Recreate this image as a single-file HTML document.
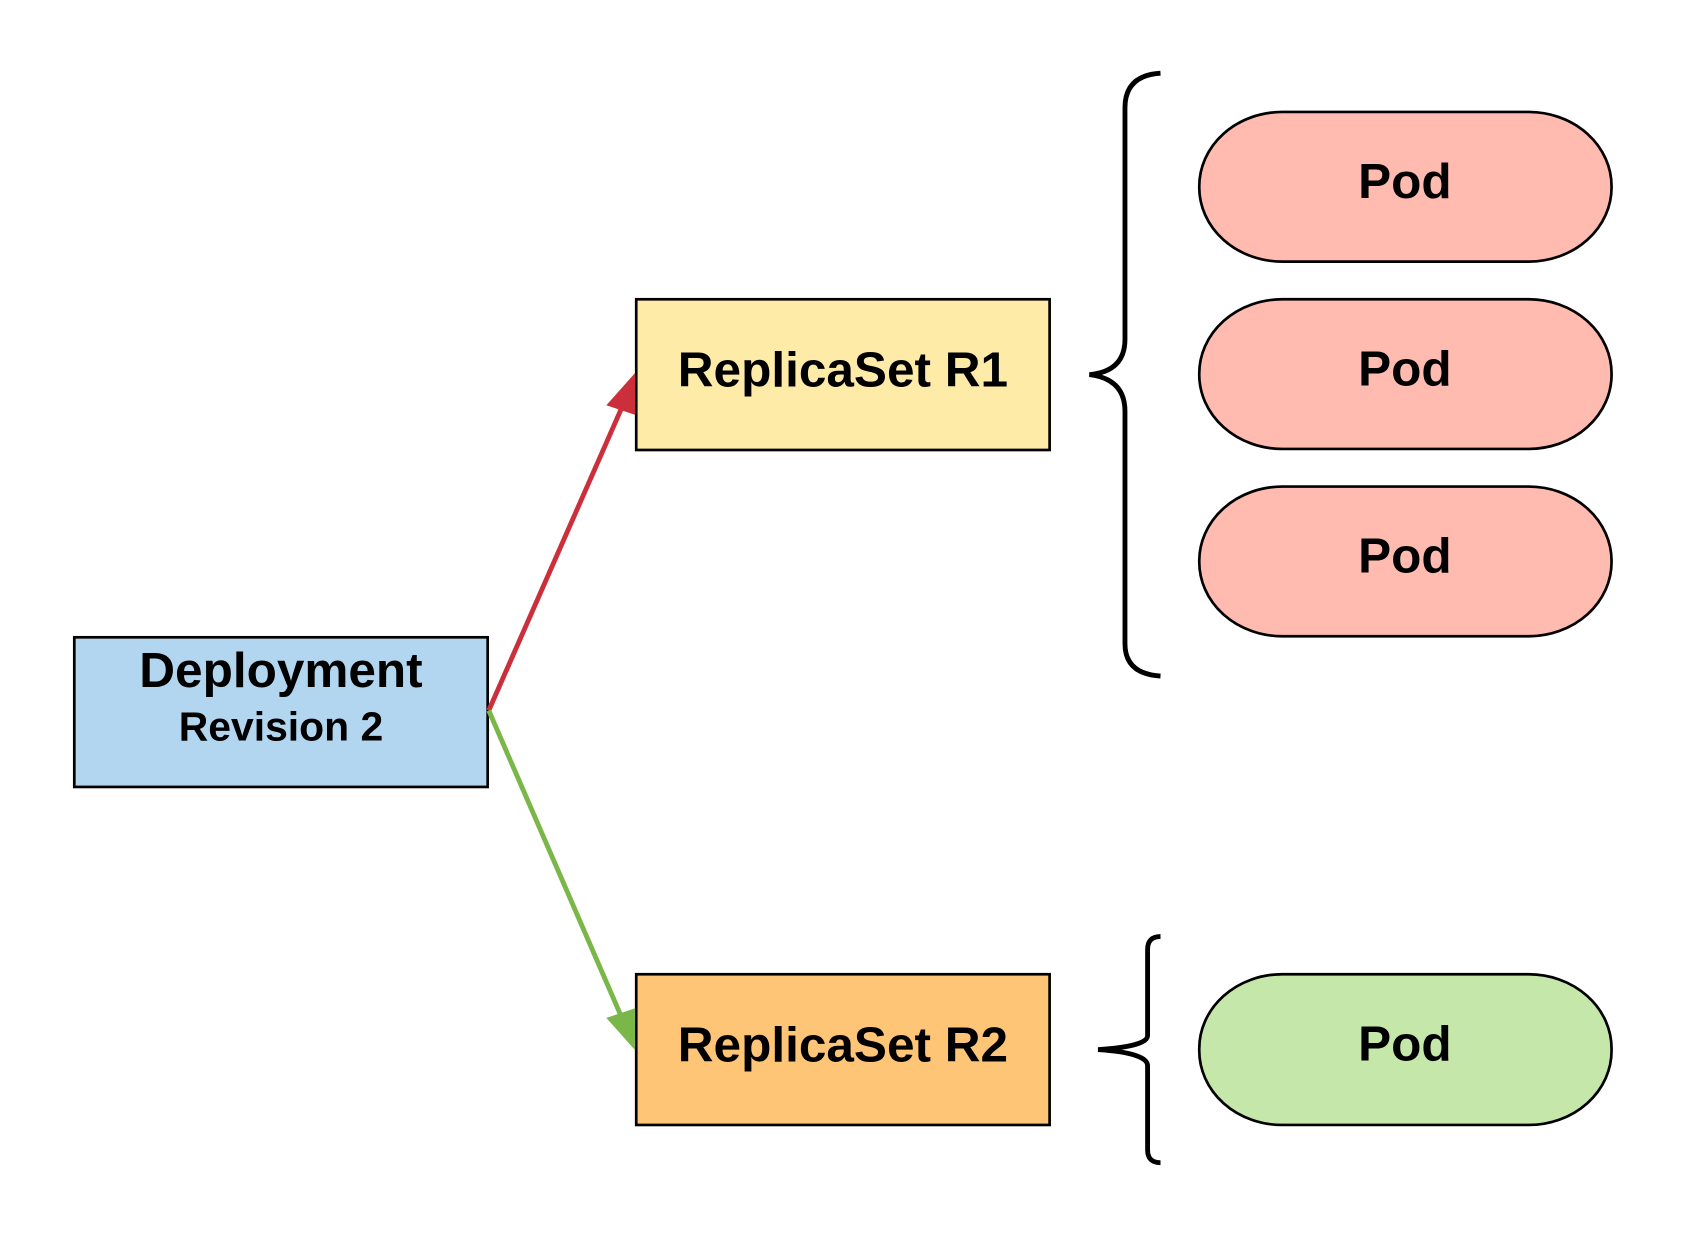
<!DOCTYPE html>
<html><head><meta charset="utf-8"><style>html,body{margin:0;padding:0;background:#fff}svg{display:block}</style></head>
<body>
<svg width="1688" height="1238" viewBox="0 0 1568 1150" xmlns="http://www.w3.org/2000/svg" font-family="'Liberation Sans', sans-serif" font-weight="bold" text-anchor="middle">
<rect width="1568" height="1150" fill="#fff"/>
<rect x="69" y="592" width="384" height="139" fill="#b3d6f0" stroke="#000" stroke-width="2.5"/>
<text x="261" y="638" font-size="46">Deployment</text>
<text x="261" y="688" font-size="38">Revision 2</text>
<rect x="591" y="278" width="384" height="140" fill="#ffeba8" stroke="#000" stroke-width="2.5"/>
<text x="783" y="359" font-size="46">ReplicaSet R1</text>
<rect x="591" y="905" width="384" height="140" fill="#ffc577" stroke="#000" stroke-width="2.5"/>
<text x="783" y="986" font-size="46">ReplicaSet R2</text>
<g stroke="#000" stroke-width="2.5">
<rect x="1114" y="104" width="383" height="139" rx="77" ry="69" fill="#ffbbb0"/>
<rect x="1114" y="278" width="383" height="139" rx="77" ry="69" fill="#ffbbb0"/>
<rect x="1114" y="452" width="383" height="139" rx="77" ry="69" fill="#ffbbb0"/>
<rect x="1114" y="905" width="383" height="140" rx="77" ry="69" fill="#c6e7aa"/>
</g>
<text x="1305" y="184" font-size="46">Pod</text>
<text x="1305" y="358" font-size="46">Pod</text>
<text x="1305" y="532" font-size="46">Pod</text>
<text x="1305" y="985" font-size="46">Pod</text>
<path d="M1078,68 Q1045,70 1045,100 L1045,315 Q1045,345 1012,348 Q1045,352 1045,382 L1045,598 Q1045,626 1078,628" fill="none" stroke="#000" stroke-width="4.5"/>
<path d="M1078,870 Q1066,870 1066,882 L1066,962 Q1066,972 1020,975 Q1066,978 1066,990 L1066,1068 Q1066,1080 1078,1080" fill="none" stroke="#000" stroke-width="4.5"/>
<line x1="454" y1="660" x2="577" y2="380" stroke="#cc2f3c" stroke-width="4.5"/>
<path d="M589,349 L589,384 L565,376 Z" fill="#cc2f3c" stroke="#cc2f3c" stroke-width="2"/>
<line x1="454" y1="660" x2="577" y2="944" stroke="#7ab648" stroke-width="4.5"/>
<path d="M589,973 L589,938 L565,946 Z" fill="#7ab648" stroke="#7ab648" stroke-width="2"/>
</svg>
</body></html>
